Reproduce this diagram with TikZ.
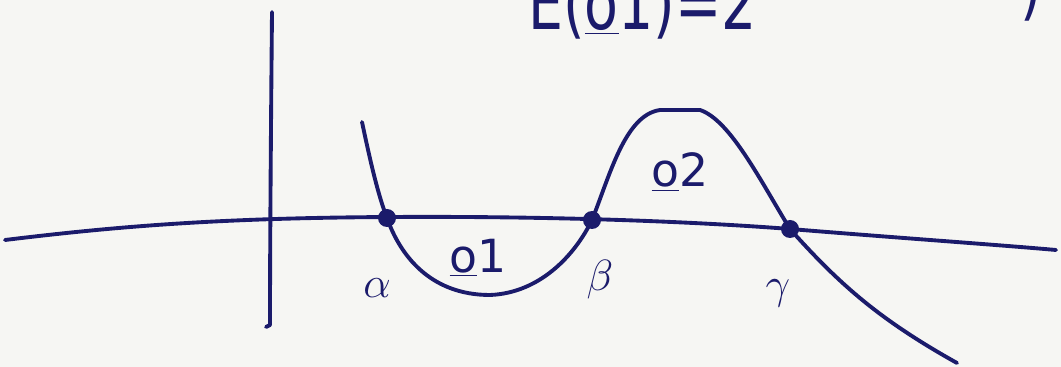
\documentclass[tikz,border=0pt]{standalone}
\usepackage{fontspec}
\setmainfont{DejaVu Sans}
\definecolor{ink}{HTML}{1B1B6B}
\definecolor{paper}{HTML}{F6F6F3}
\tikzset{
  pen/.style={draw=ink, line width=2.2pt, line cap=round, line join=round},
  dotmark/.style={circle, fill=ink, inner sep=0pt, minimum size=0.36cm},
  lbl/.style={text=ink, font=\fontsize{26}{30}\selectfont, inner sep=0pt},
  toplbl/.style={text=ink, font=\fontsize{42}{46}\selectfont, inner sep=0pt, anchor=base west, xscale=0.75}
}
\begin{document}
\begin{tikzpicture}[x=0.02cm, y=-0.02cm]
\useasboundingbox (0,0) rectangle (1061,367);
\fill[paper] (0,0) rectangle (1061,367);
\clip (0,0) rectangle (1061,367);
% cropped heading text
\node[toplbl] (head) at (528,30) {E($\underline{\mathrm{o}}$1)=2};
\node[toplbl] (headr) at (1020,12) {)};
% vertical axis
\coordinate (vt) at (272,12);
\coordinate (vb) at (270,325);
\draw[pen] (vt) .. controls (271,120) and (270,240) .. (vb) -- (266,327);
% horizontal axis
\coordinate (hl) at (5,240);
\coordinate (hr) at (1056,250);
\draw[pen] (hl) .. controls (120,226) and (220,218) .. (390,217)
  .. controls (560,216) and (700,222) .. (790,229)
  .. controls (900,238) and (1000,245) .. (hr);
% points
\node[dotmark] (a) at (387,218) {};
\node[dotmark] (b) at (592,220) {};
\node[dotmark] (g) at (790,229) {};
% curve
\coordinate (start) at (362,122);
\coordinate (end) at (957,363);
\draw[pen] (start) .. controls (370,160) and (378,195) .. (a.center)
  .. controls (400,255) and (430,295) .. (490,295)
  .. controls (540,293) and (575,255) .. (b.center)
  .. controls (610,175) and (625,115) .. (660,110)
  -- (700,110)
  .. controls (730,120) and (760,180) .. (g.center)
  .. controls (840,285) and (880,320) .. (end);
% labels
\node[lbl] (la) at (377,288) {$\alpha$};
\node[lbl] (lb) at (600,280) {$\beta$};
\node[lbl] (lg) at (778,293) {$\gamma$};
\node[lbl] (o1) at (478,258) {$\underline{\mathrm{o}}$1};
\node[lbl] (o2) at (680,172) {$\underline{\mathrm{o}}$2};
\end{tikzpicture}
\end{document}
